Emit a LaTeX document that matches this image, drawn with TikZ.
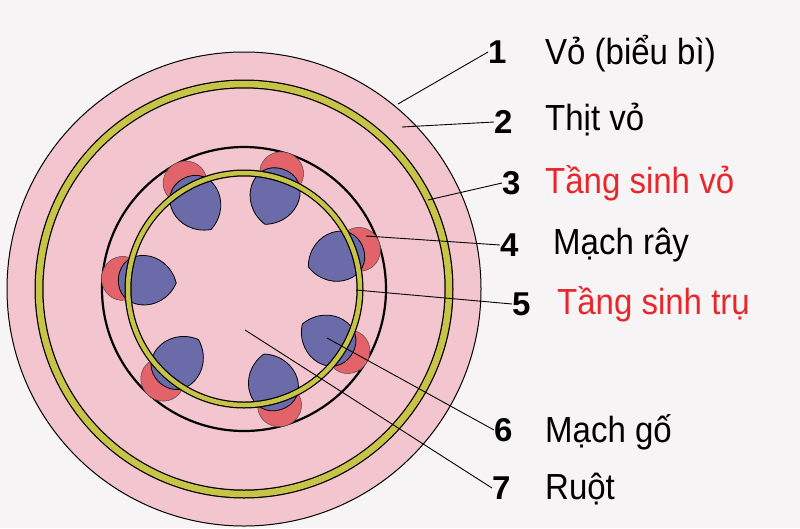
\documentclass[tikz,border=0pt]{standalone}
\usepackage{fontspec}
\setmainfont{Liberation Sans}
\definecolor{bg}{HTML}{F6F4F4}
\definecolor{pinkf}{HTML}{F2C5CF}
\definecolor{ylw}{HTML}{C8C447}
\definecolor{blu}{HTML}{6B6BAA}
\definecolor{rd}{HTML}{E2636A}
\definecolor{lbred}{HTML}{E8262B}
\tikzset{
  lead/.style={black, line width=0.9pt},
  num/.style={anchor=west, font=\fontsize{33}{36}\selectfont\bfseries, inner sep=0pt},
  lbl/.style={anchor=west, font=\fontsize{33}{36}\selectfont, inner sep=0pt, yscale=1.1},
}
\begin{document}
\begin{tikzpicture}[x=1pt,y=-1pt]
\fill[bg] (0,0) rectangle (800,528);
\useasboundingbox (0,0) rectangle (800,528);
\coordinate (c) at (244,289);
\fill[pinkf, draw=black, line width=1pt] (c) circle (237);
\draw[black, line width=9pt] (c) circle (205);
\draw[ylw, line width=6.5pt] (c) circle (205);
\draw[black, line width=2.2pt] (c) circle (142);
\foreach \a in {73,31,-19,-72,-119,185,132}{
  \begin{scope}[shift={(c)}, rotate=-\a]
    \fill[rd, draw=black!70, line width=0.5pt] (122,0) ellipse (21 and 22);
    \fill[blu, draw=black, line width=0.8pt] (68,0) .. controls (80,34) and (126,32) .. (126,0) .. controls (126,-32) and (80,-34) .. (68,0);
  \end{scope}
}
\draw[black, line width=7pt] (c) circle (116);
\draw[ylw, line width=4.5pt] (c) circle (116);
\coordinate (p1) at (398,104);
\coordinate (p2) at (402,127);
\coordinate (p3) at (428,200);
\coordinate (p4) at (366,236);
\coordinate (p5) at (356,290);
\coordinate (p6) at (327,338);
\coordinate (p7) at (245,330);
\node[num] (n1) at (488,52) {1};
\node[num] (n2) at (494,122) {2};
\node[num] (n3) at (502,183) {3};
\node[num] (n4) at (500,245) {4};
\node[num] (n5) at (512,304) {5};
\node[num] (n6) at (494,430) {6};
\node[num] (n7) at (492,488) {7};
\node[lbl] (t1) at (545,54) {Vỏ (biểu bì)};
\node[lbl] (t2) at (545,120) {Thịt vỏ};
\node[lbl, text=lbred] (t3) at (545,183) {Tầng sinh vỏ};
\node[lbl] (t4) at (553,245) {Mạch rây};
\node[lbl, text=lbred] (t5) at (557,304) {Tầng sinh trụ};
\node[lbl] (t6) at (545,432) {Mạch gố};
\node[lbl] (t7) at (545,489) {Ruột};
\draw[lead] (p1) -- (n1.west);
\draw[lead] (p2) -- (n2.west);
\draw[lead] (p3) -- (n3.west);
\draw[lead] (p4) -- (n4.west);
\draw[lead] (p5) -- (n5.west);
\draw[lead] (p6) -- (n6.west);
\draw[lead] (p7) -- (n7.west);
\end{tikzpicture}
\end{document}
